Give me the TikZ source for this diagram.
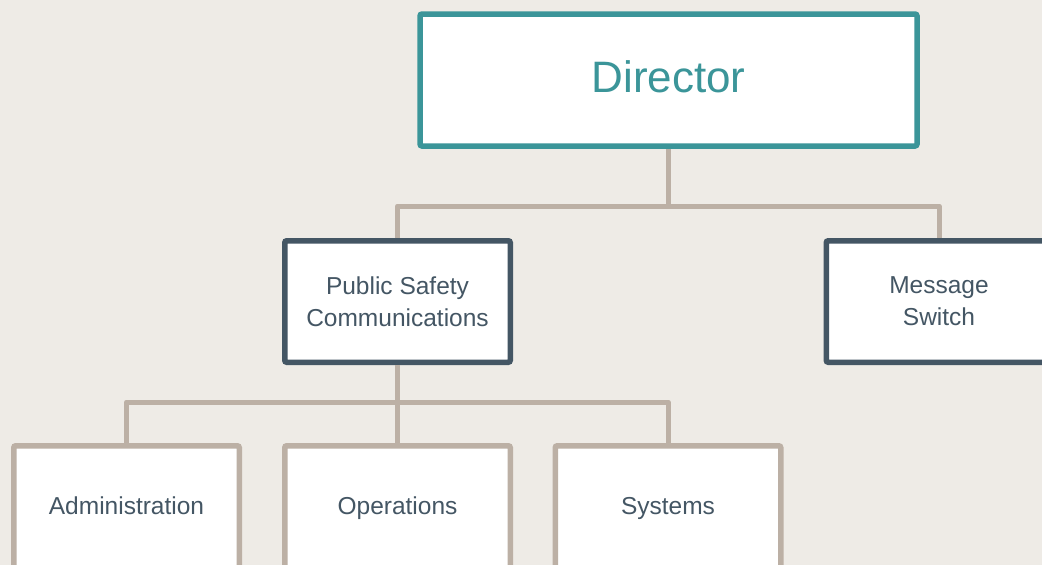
\documentclass[tikz,border=0pt]{standalone}
\usepackage{fontspec}
\setmainfont{Liberation Sans}
\definecolor{bgc}{HTML}{EEEBE6}
\definecolor{teal}{HTML}{3B9599}
\definecolor{slate}{HTML}{445664}
\definecolor{tan}{HTML}{BCB0A5}
\tikzset{
  box/.style={draw, fill=white, rounded corners=2pt, line width=5.5pt,
    minimum width=225.5pt, minimum height=121.5pt, inner sep=0pt,
    align=center, text=slate, font=\fontsize{24.5}{32}\selectfont},
  topbox/.style={box, draw=teal, text=teal, minimum width=497pt,
    minimum height=132pt, text depth=6pt, font=\fontsize{44}{52}\selectfont},
  midbox/.style={box, draw=slate},
  lowbox/.style={box, draw=tan, minimum height=160pt},
  lowtext/.style={text=slate, font=\fontsize{24.5}{32}\selectfont,
    inner sep=0pt, anchor=base},
  link/.style={draw=tan, line width=5pt, line join=round}
}
\begin{document}
\begin{tikzpicture}[x=1pt, y=-1pt]
  \fill[bgc] (0,0) rectangle (1042,565);
  \useasboundingbox (0,0) rectangle (1042,565);
  \begin{scope}
    \clip (0,0) rectangle (1042,565);
    % boxes
    \node[topbox] (dir) at (668.5,80) {Director};
    \node[midbox] (psc) at (397.5,301.5) {Public Safety\\Communications};
    \node[midbox] (ms) at (939,301.5) {Message\\Switch};
    \node[lowbox] (adm) at (126.5,525.75) {};
    \node[lowbox] (ops) at (397.5,525.75) {};
    \node[lowbox] (sys) at (668,525.75) {};
    \node[lowtext] (admt) at (126.5,514) {Administration};
    \node[lowtext] (opst) at (397.5,514) {Operations};
    \node[lowtext] (syst) at (668,514) {Systems};
    % bus levels
    \coordinate (bus1) at (0,206);
    \coordinate (bus2) at (0,402);
    % connectors
    \path[link] (dir.south) -- (dir.south |- bus1);
    \path[link] (psc.north) -- (psc.north |- bus1) -- (ms.north |- bus1) -- (ms.north);
    \path[link] (psc.south) -- (ops.north);
    \path[link] (adm.north) -- (adm.north |- bus2) -- (sys.north |- bus2) -- (sys.north);
  \end{scope}
\end{tikzpicture}
\end{document}
